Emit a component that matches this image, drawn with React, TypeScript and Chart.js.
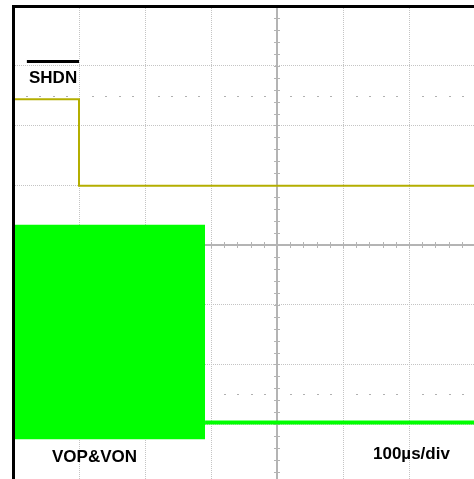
import React, { useEffect, useRef } from "react";
import { Chart, registerables } from "chart.js";

Chart.register(...registerables);

// Time axis in microseconds (100 µs/div), vertical axis in divisions
const xDivisions = [-400, 400];
const yDivisions = [-4, 4];

// SHDN trace
const shdnTime = [-400, -300, -300, 400];
const shdnLevel = [2.44, 2.44, 0.99, 0.99];

// SHDN reference marker
const markerTime = [-379, -300];
const markerLevel = [3.07, 3.07];

// VOP&VON switching burst (envelope)
const burstTime = [-400, -109];
const burstTop = [0.34, 0.34];
const burstBottom = [-3.25, -3.25];

// VOP&VON after shutdown
const idleTime = [-109, 400];
const idleLevel = [-2.97, -2.97];

const labels = { shdn: "SHDN", vout: "VOP&VON", timebase: "100µs/div" };

const pts = (xs: number[], ys: number[]) => xs.map((x, i) => ({ x, y: ys[i] }));

const scopePlugin = {
  id: "scope",
  beforeDatasetsDraw(chart: any) {
    const { ctx, chartArea, scales } = chart;
    const xs = scales.x;
    const ys = scales.y;
    ctx.save();
    // half-division dotted rows
    ctx.fillStyle = "#b0b0b0";
    for (const lvl of [2.5, -2.5]) {
      const py = Math.round(ys.getPixelForValue(lvl));
      for (let v = xDivisions[0]; v <= xDivisions[1]; v += 20) {
        if (v % 100 === 0) continue;
        const px = Math.round(xs.getPixelForValue(v));
        ctx.fillRect(px, py, 2, 1);
      }
    }
    // centre axes
    const cx = xs.getPixelForValue(0);
    const cy = ys.getPixelForValue(0);
    ctx.strokeStyle = "#b4b4b4";
    ctx.lineWidth = 2;
    ctx.beginPath();
    ctx.moveTo(cx, chartArea.top);
    ctx.lineTo(cx, chartArea.bottom);
    ctx.moveTo(chartArea.left, cy);
    ctx.lineTo(chartArea.right, cy);
    ctx.stroke();
    ctx.lineWidth = 1;
    ctx.beginPath();
    for (let v = xDivisions[0]; v <= xDivisions[1]; v += 20) {
      const px = Math.round(xs.getPixelForValue(v)) + 0.5;
      ctx.moveTo(px, cy - 3);
      ctx.lineTo(px, cy + 3);
    }
    for (let d = yDivisions[0]; d <= yDivisions[1] + 1e-9; d += 0.2) {
      const py = Math.round(ys.getPixelForValue(d)) + 0.5;
      ctx.moveTo(cx - 3, py);
      ctx.lineTo(cx + 3, py);
    }
    ctx.stroke();
    ctx.restore();
  },
  afterDraw(chart: any) {
    const { ctx, chartArea } = chart;
    ctx.save();
    ctx.strokeStyle = "#000";
    ctx.lineWidth = 3;
    ctx.beginPath();
    ctx.moveTo(chartArea.left + 0.5, chartArea.bottom);
    ctx.lineTo(chartArea.left + 0.5, chartArea.top + 0.5);
    ctx.lineTo(chartArea.right, chartArea.top + 0.5);
    ctx.stroke();
    ctx.restore();
  },
};

export default function App() {
  const ref = useRef<HTMLCanvasElement>(null);
  useEffect(() => {
    if (!ref.current) return;
    const chart = new Chart(ref.current, {
      type: "line",
      data: {
        datasets: [
          {
            label: "burst-top",
            data: pts(burstTime, burstTop),
            borderWidth: 0,
            borderColor: "#00ff00",
            backgroundColor: "#00ff00",
            pointRadius: 0,
            fill: "+1",
          },
          {
            label: "burst-bottom",
            data: pts(burstTime, burstBottom),
            borderWidth: 0,
            borderColor: "#00ff00",
            pointRadius: 0,
            fill: false,
          },
          {
            label: "idle",
            data: pts(idleTime, idleLevel),
            borderWidth: 4,
            borderColor: "#00ff00",
            pointRadius: 0,
            fill: false,
          },
          {
            label: "shdn",
            data: pts(shdnTime, shdnLevel),
            borderWidth: 2,
            borderColor: "#b4ae00",
            pointRadius: 0,
            fill: false,
          },
          {
            label: "marker",
            data: pts(markerTime, markerLevel),
            borderWidth: 3,
            borderColor: "#000000",
            pointRadius: 0,
            fill: false,
          },
        ],
      },
      options: {
        animation: false,
        responsive: false,
        layout: { padding: { left: 13, top: 6, right: 19, bottom: 16 } },
        plugins: { legend: { display: false }, tooltip: { enabled: false } },
        scales: {
          x: {
            type: "linear",
            min: xDivisions[0],
            max: xDivisions[1],
            ticks: { display: false, stepSize: 100 },
            grid: { color: "#c4c4c4", drawTicks: false, lineWidth: 1 },
            border: { display: false, dash: [1, 1] },
          },
          y: {
            type: "linear",
            min: yDivisions[0],
            max: yDivisions[1],
            ticks: { display: false, stepSize: 1 },
            grid: { color: "#c4c4c4", drawTicks: false, lineWidth: 1 },
            border: { display: false, dash: [1, 1] },
          },
        },
      },
      plugins: [scopePlugin],
    });
    return () => chart.destroy();
  }, []);

  const textStyle: React.CSSProperties = {
    position: "absolute",
    fontFamily: "'Liberation Sans', Arial, sans-serif",
    fontWeight: "bold",
    fontSize: 17,
    lineHeight: "17px",
    color: "#000",
    whiteSpace: "nowrap",
  };

  return (
    <div
      style={{
        position: "fixed",
        left: 0,
        top: 0,
        width: 474,
        height: 479,
        overflow: "hidden",
        background: "#fff",
      }}
    >
      <canvas ref={ref} width={560} height={500} style={{ display: "block" }} />
      <div style={{ ...textStyle, left: 29, top: 69 }}>{labels.shdn}</div>
      <div style={{ ...textStyle, left: 52, top: 448 }}>{labels.vout}</div>
      <div style={{ ...textStyle, left: 373, top: 445 }}>{labels.timebase}</div>
    </div>
  );
}
